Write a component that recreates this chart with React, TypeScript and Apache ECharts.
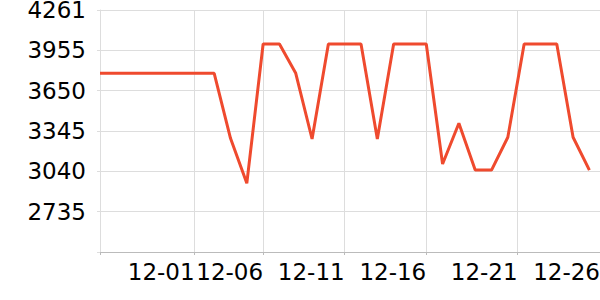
import React, { useEffect, useRef } from 'react';
import * as echarts from 'echarts';

// Daily values, 11-26 .. 12-26
const days = [
  '11-26', '11-27', '11-28', '11-29', '11-30', '12-01', '12-02', '12-03', '12-04', '12-05',
  '12-06', '12-07', '12-08', '12-09', '12-10', '12-11', '12-12', '12-13', '12-14', '12-15',
  '12-16', '12-17', '12-18', '12-19', '12-20', '12-21', '12-22', '12-23', '12-24', '12-25', '12-26',
];
const values = [
  3782, 3782, 3782, 3782, 3782, 3782, 3782, 3782, 3290, 2950,
  4004, 4004, 3782, 3285, 4004, 4004, 4004, 3285, 4004, 4004,
  4004, 3096, 3404, 3050, 3050, 3298, 4004, 4004, 4004, 3298, 3050,
];

const yMin = 2430;
const yMax = 4261;
const ySteps = 6;

// x tick labels and where the reference places them (in day-index units)
const xTickLabels = ['12-01', '12-06', '12-11', '12-16', '12-21', '12-26'];
const xTickPositions = [5.8, 10, 15, 20, 25.6, 30.65];
const xMax = 30.65;

export default function App() {
  const ref = useRef<HTMLDivElement>(null);
  useEffect(() => {
    if (!ref.current) return;
    const chart = echarts.init(ref.current, undefined, { renderer: 'svg' });
    const font = 'DejaVu Sans';
    chart.setOption({
      animation: false,
      grid: { left: 100, right: 0, top: 10, bottom: 48, outerBoundsMode: 'none' },
      xAxis: {
        type: 'value',
        min: 0,
        max: xMax,
        axisLine: { show: true, lineStyle: { color: '#bbbbbb', width: 1 } },
        axisTick: {
          show: true,
          length: 3,
          customValues: [0, ...xTickPositions.slice(0, -1)],
          lineStyle: { color: '#bbbbbb' },
        },
        splitLine: { show: true, lineStyle: { color: '#dddddd', width: 1 } },
        axisLabel: {
          customValues: xTickPositions,
          align: 'right',
          margin: 8,
          fontSize: 23,
          fontFamily: font,
          color: '#000',
          formatter: (v: number) => {
            let best = 0;
            xTickPositions.forEach((p, i) => {
              if (Math.abs(p - v) < Math.abs(xTickPositions[best] - v)) best = i;
            });
            return xTickLabels[best];
          },
        },
      },
      yAxis: {
        type: 'value',
        min: yMin,
        max: yMax,
        interval: (yMax - yMin) / ySteps,
        axisLine: { show: true, lineStyle: { color: '#dddddd' } },
        axisTick: { show: true, length: 3, lineStyle: { color: '#dddddd' } },
        splitLine: { show: true, lineStyle: { color: '#dddddd', width: 1 } },
        axisLabel: {
          margin: 14,
          fontSize: 23,
          fontFamily: font,
          color: '#000',
          formatter: (v: number) => (v < yMin + 1 ? '' : String(Math.floor(v + 1e-3))),
        },
      },
      series: [
        {
          type: 'line',
          name: 'value',
          data: values.map((v, i) => [i, v]),
          showSymbol: false,
          symbol: 'none',
          lineStyle: { color: '#ef4a2e', width: 3 },
          itemStyle: { color: '#ef4a2e' },
        },
      ],
    });
    return () => chart.dispose();
  }, []);
  return (
    <div
      ref={ref}
      data-days={days.length}
      style={{ position: 'fixed', left: 0, top: 0, width: 600, height: 300, background: '#fff' }}
    />
  );
}
